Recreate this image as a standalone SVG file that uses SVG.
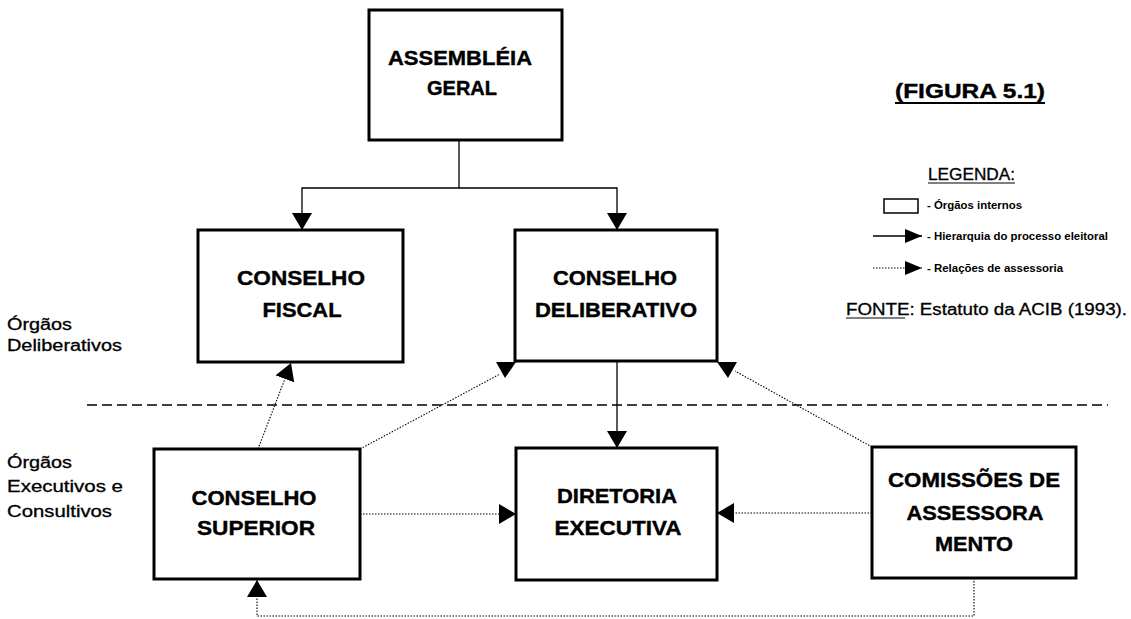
<svg xmlns="http://www.w3.org/2000/svg" width="1131" height="619" viewBox="0 0 1131 619">
<style>
.box{fill:#fff;stroke:#000;stroke-width:3}
.bt{font-family:"Liberation Sans",Arial,sans-serif;font-weight:bold;font-size:21px;fill:#000;stroke:#000;stroke-width:0.4;text-anchor:middle}
.lt{font-family:"Liberation Sans",Arial,sans-serif;font-size:16px;fill:#000;stroke:#000;stroke-width:0.3}
.sm{font-family:"Liberation Sans",Arial,sans-serif;font-weight:bold;font-size:10.5px;fill:#000}
.solid{fill:none;stroke:#000;stroke-width:1.3}
.dot{fill:none;stroke:#000;stroke-width:1.1;stroke-dasharray:1.5 1.5}
.dash{fill:none;stroke:#000;stroke-width:1.5;stroke-dasharray:10 5}
.tri{fill:#000}
</style>
<defs>
<marker id="ah" markerUnits="userSpaceOnUse" markerWidth="18" markerHeight="20" refX="17" refY="10" orient="auto" viewBox="0 0 18 20">
<path d="M0,0 L17,10 L0,20 Z" fill="#000"/>
</marker>
<marker id="ahs" markerUnits="userSpaceOnUse" markerWidth="18" markerHeight="14" refX="17" refY="7" orient="auto" viewBox="0 0 18 14">
<path d="M0,0 L17,7 L0,14 Z" fill="#000"/>
</marker>
</defs>

<line class="dash" x1="87" y1="405" x2="1108" y2="405"/>

<g id="connectors">
<path class="solid" d="M459,140 V188 H302 V230" marker-end="url(#ah)"/>
<path class="solid" d="M459,188 H617 V230" marker-end="url(#ah)"/>
<path class="solid" d="M617,361 V448" marker-end="url(#ah)"/>
<path class="dot" d="M258,449 L291,363" marker-end="url(#ah)"/>
<path class="dot" d="M360,449 L500,374"/>
<polygon class="tri" points="496,362 516,362 505,378"/>
<path class="dot" d="M872,447 L735,371"/>
<polygon class="tri" points="717,362 737,362 728,378"/>
<path class="dot" d="M360,514 H516" marker-end="url(#ah)"/>
<path class="dot" d="M872,513 H717" marker-end="url(#ah)"/>
<path class="dot" d="M974,578 V616 H257 V580" marker-end="url(#ah)"/>
</g>

<g id="assembleia">
<rect class="box" x="369" y="10" width="193" height="130"/>
<text class="bt" x="460" y="65" textLength="144" lengthAdjust="spacingAndGlyphs">ASSEMBLÉIA</text>
<text class="bt" x="462" y="95" textLength="70" lengthAdjust="spacingAndGlyphs">GERAL</text>
</g>

<g id="fiscal">
<rect class="box" x="198" y="230" width="205" height="132"/>
<text class="bt" x="301" y="285" textLength="128" lengthAdjust="spacingAndGlyphs">CONSELHO</text>
<text class="bt" x="302" y="317" textLength="79" lengthAdjust="spacingAndGlyphs">FISCAL</text>
</g>

<g id="deliberativo">
<rect class="box" x="515" y="230" width="202" height="131"/>
<text class="bt" x="615" y="285" textLength="124" lengthAdjust="spacingAndGlyphs">CONSELHO</text>
<text class="bt" x="616" y="317" textLength="162" lengthAdjust="spacingAndGlyphs">DELIBERATIVO</text>
</g>

<g id="superior">
<rect class="box" x="154" y="449" width="206" height="130"/>
<text class="bt" x="254" y="505" textLength="125" lengthAdjust="spacingAndGlyphs">CONSELHO</text>
<text class="bt" x="256" y="535" textLength="118" lengthAdjust="spacingAndGlyphs">SUPERIOR</text>
</g>

<g id="diretoria">
<rect class="box" x="516" y="448" width="201" height="132"/>
<text class="bt" x="617" y="503" textLength="120" lengthAdjust="spacingAndGlyphs">DIRETORIA</text>
<text class="bt" x="618" y="535" textLength="127" lengthAdjust="spacingAndGlyphs">EXECUTIVA</text>
</g>

<g id="comissoes">
<rect class="box" x="872" y="447" width="204" height="131"/>
<text class="bt" x="974" y="487" textLength="172" lengthAdjust="spacingAndGlyphs">COMISSÕES DE</text>
<text class="bt" x="975" y="520" textLength="137" lengthAdjust="spacingAndGlyphs">ASSESSORA</text>
<text class="bt" x="974" y="551" textLength="78" lengthAdjust="spacingAndGlyphs">MENTO</text>
</g>

<g id="labels">
<text class="lt" x="7" y="330" textLength="65" lengthAdjust="spacingAndGlyphs">Órgãos</text>
<text class="lt" x="7" y="351" textLength="115" lengthAdjust="spacingAndGlyphs">Deliberativos</text>
<text class="lt" x="7" y="468" textLength="65" lengthAdjust="spacingAndGlyphs">Órgãos</text>
<text class="lt" x="7" y="492" textLength="116" lengthAdjust="spacingAndGlyphs">Executivos e</text>
<text class="lt" x="7" y="517" textLength="105" lengthAdjust="spacingAndGlyphs">Consultivos</text>
</g>

<g id="title">
<text class="bt" x="970" y="98" textLength="150" lengthAdjust="spacingAndGlyphs" font-size="20">(FIGURA 5.1)</text>
<line x1="895" y1="103" x2="1045" y2="103" stroke="#000" stroke-width="2"/>
</g>

<g id="legend">
<text class="lt" x="928" y="180" font-size="15" textLength="87" lengthAdjust="spacingAndGlyphs">LEGENDA:</text>
<line x1="928" y1="183" x2="1015" y2="183" stroke="#000" stroke-width="1.2"/>
<rect x="884" y="199" width="34" height="14" fill="#fff" stroke="#000" stroke-width="1.5"/>
<text class="sm" x="927" y="209" textLength="95" lengthAdjust="spacingAndGlyphs">- Órgãos internos</text>
<path class="solid" d="M873,236 H922" marker-end="url(#ahs)"/>
<text class="sm" x="927" y="240" textLength="181" lengthAdjust="spacingAndGlyphs">- Hierarquia do processo eleitoral</text>
<path class="dot" d="M873,268 H922" marker-end="url(#ahs)"/>
<text class="sm" x="927" y="272" textLength="136" lengthAdjust="spacingAndGlyphs">- Relações de assessoria</text>
<text class="lt" x="846" y="315" font-size="15" textLength="281" lengthAdjust="spacingAndGlyphs">FONTE: Estatuto da ACIB (1993).</text>
<line x1="846" y1="318" x2="905" y2="318" stroke="#000" stroke-width="1.2"/>
</g>
</svg>
